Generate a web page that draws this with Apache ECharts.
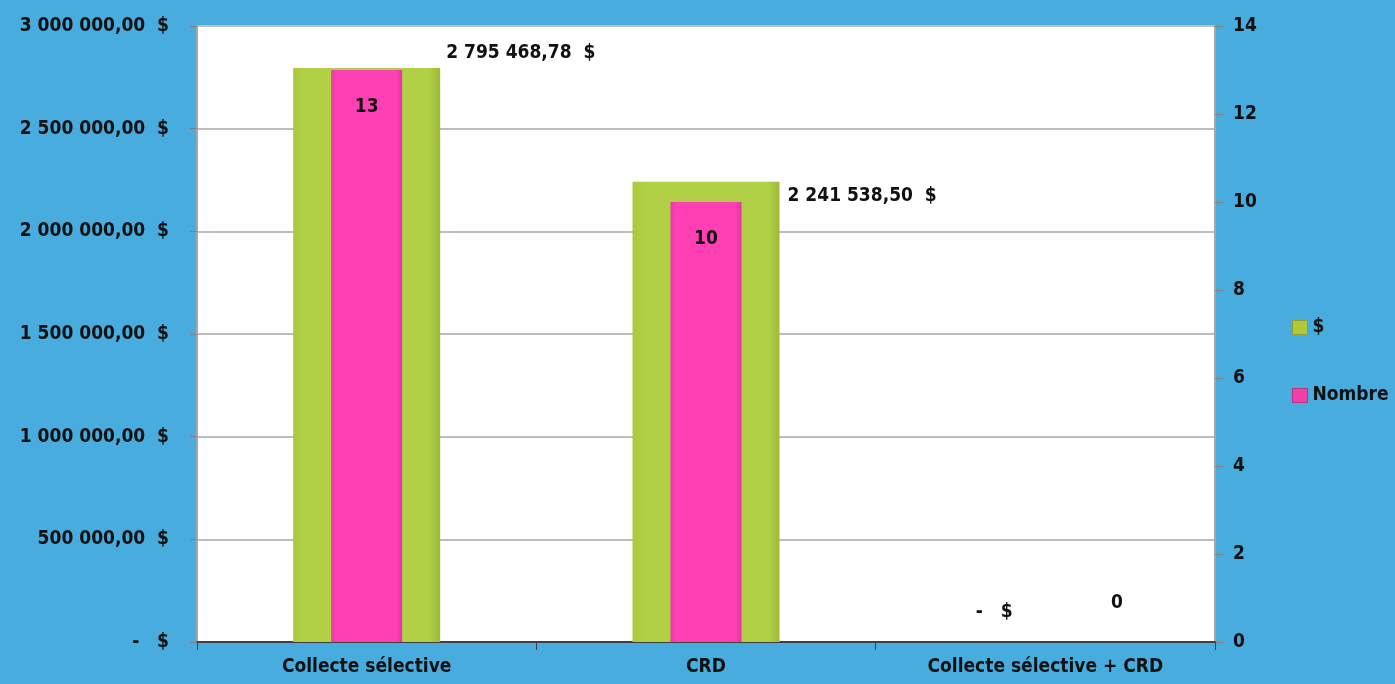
<!DOCTYPE html>
<html>
<head>
<meta charset="utf-8">
<script src="https://cdn.jsdelivr.net/npm/echarts@6/dist/echarts.min.js"></script>
<style>
html,body{margin:0;padding:0;background:#48ADDE;}
#c{width:1395px;height:684px;}
#edge{position:absolute;left:0;top:0;width:6px;height:684px;background:#E6E6E6;}
</style>
</head>
<body>
<div id="edge"></div>
<div id="c"></div>
<script>
const categories = ['Collecte sélective', 'CRD', 'Collecte sélective + CRD'];
const montants = [2795468.78, 2241538.50, 0];
const nombres = [13, 10, 0];
const leftTicks = [0, 500000, 1000000, 1500000, 2000000, 2500000, 3000000];
const rightTicks = [0, 2, 4, 6, 8, 10, 12, 14];

const FONT = '"Liberation Sans Narrow", "DejaVu Sans Condensed", sans-serif';

function fmtMoney(v) {
  if (v === 0) return '-   $';
  const parts = v.toFixed(2).split('.');
  const intPart = parts[0].replace(/\B(?=(\d{3})+(?!\d))/g, ' ');
  return intPart + ',' + parts[1] + '  $';
}

const greenLabelPos = [[153, -15], [155, 14], [4, -30]];
const pinkLabelPos = [null, null, [107, -39]];

const green = {
  type: 'linear', x: 0, y: 0, x2: 1, y2: 0,
  colorStops: [
    {offset: 0, color: '#A9C83E'},
    {offset: 0.08, color: '#B2D046'},
    {offset: 0.92, color: '#B2D046'},
    {offset: 1, color: '#9DB93A'}
  ]
};
const pink = {
  type: 'linear', x: 0, y: 0, x2: 1, y2: 0,
  colorStops: [
    {offset: 0, color: '#E93AA5'},
    {offset: 0.08, color: '#FF40B4'},
    {offset: 0.92, color: '#FF40B4'},
    {offset: 1, color: '#E0369E'}
  ]
};

const chart = echarts.init(document.getElementById('c'), null, {renderer: 'canvas'});
const labelText = {fontFamily: FONT, fontWeight: 'bold', fontSize: 19, color: '#111'};

chart.setOption({
  backgroundColor: '#48ADDE',
  animation: false,
  textStyle: {fontFamily: FONT},
  grid: {left: 197, right: 180, top: 26, bottom: 42, show: true, backgroundColor: '#FFFFFF', borderWidth: 0},
  legend: {
    orient: 'vertical', left: 1287, top: 313, itemGap: 49,
    itemWidth: 15, itemHeight: 14,
    textStyle: {fontFamily: FONT, fontWeight: 'bold', fontSize: 19, color: '#111'},
    data: [
      {name: '$', icon: 'rect', itemStyle: {color: '#B2C83A', borderColor: '#8FA030', borderWidth: 1}},
      {name: 'Nombre', icon: 'rect', itemStyle: {color: '#F040A8', borderColor: '#B83080', borderWidth: 1}}
    ]
  },
  xAxis: [{
    type: 'category', data: categories,
    axisLine: {lineStyle: {color: '#404040', width: 2}},
    axisTick: {show: true, length: 8, lineStyle: {color: '#404040'}},
    axisLabel: {fontFamily: FONT, fontWeight: 'bold', fontSize: 19, color: '#111', margin: 16}
  }, {
    type: 'category', data: categories, show: false
  }],
  yAxis: [{
    type: 'value', min: 0, max: 3000000, interval: 500000,
    axisLine: {show: true, lineStyle: {color: '#A6A6A6', width: 2}},
    axisTick: {show: true, length: 7, lineStyle: {color: '#808080'}},
    splitLine: {lineStyle: {color: '#BDBDBD', width: 2}},
    axisLabel: {fontFamily: FONT, fontWeight: 'bold', fontSize: 19, color: '#111', margin: 28,
      formatter: v => leftTicks.includes(v) ? fmtMoney(v) : ''}
  }, {
    type: 'value', min: 0, max: 14, interval: 2,
    axisLine: {show: true, lineStyle: {color: '#A6A6A6', width: 2}},
    axisTick: {show: true, length: 8, lineStyle: {color: '#808080'}},
    splitLine: {show: false},
    axisLabel: {fontFamily: FONT, fontWeight: 'bold', fontSize: 19, color: '#111', margin: 18,
      formatter: v => rightTicks.includes(v) ? String(v) : ''}
  }],
  series: [{
    name: '$', type: 'bar', xAxisIndex: 0, yAxisIndex: 0, barWidth: 147,
    itemStyle: {color: green, borderColor: '#C9E070', borderWidth: 0},
    data: montants.map((v, i) => ({
      value: v,
      label: {show: true, position: greenLabelPos[i], verticalAlign: 'middle', align: 'left',
        formatter: p => fmtMoney(p.value), ...labelText}
    }))
  }, {
    name: 'Nombre', type: 'bar', xAxisIndex: 1, yAxisIndex: 1, barWidth: 71, z: 3,
    itemStyle: {color: pink},
    data: nombres.map((v, i) => ({
      value: v,
      label: pinkLabelPos[i]
        ? {show: true, position: pinkLabelPos[i], align: 'center', verticalAlign: 'middle', formatter: p => String(p.value), ...labelText}
        : {show: true, position: 'insideTop', distance: 28, formatter: p => String(p.value), ...labelText}
    }))
  }]
});
</script>
</body>
</html>
